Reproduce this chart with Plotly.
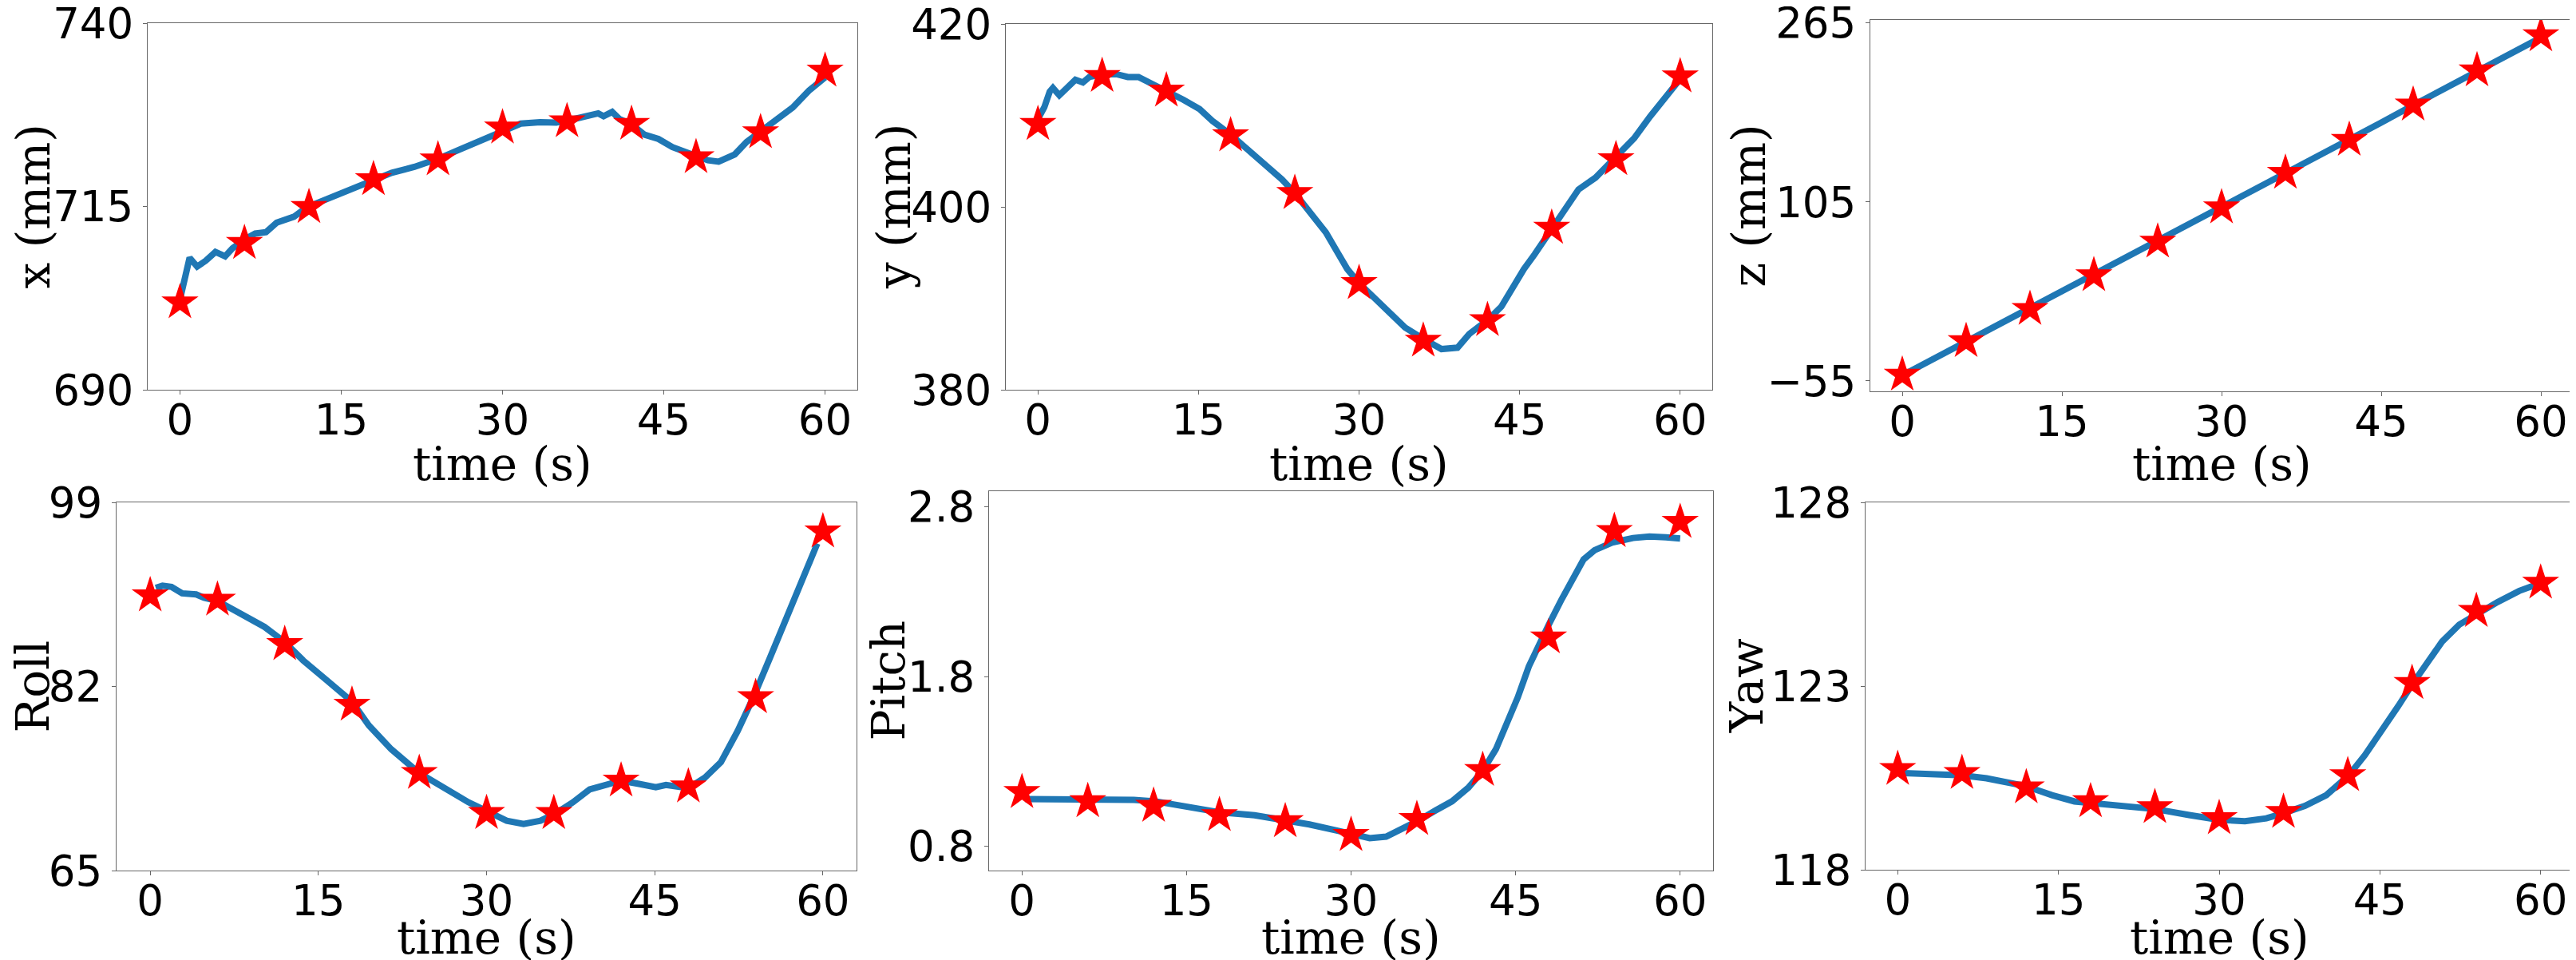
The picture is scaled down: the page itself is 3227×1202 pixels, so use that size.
import plotly.graph_objects as go

W, H = 3227, 1202

star_t = [0, 6, 12, 18, 24, 30, 36, 42, 48, 54, 60]

# x (mm)
x_line_t = [0, 0.9, 1.6, 2.4, 3.3, 4.2, 4.9, 6, 7, 8, 9, 10.6, 11.8, 13.6, 15.7, 17.8, 19.7, 21.8, 24, 25.9,
            27.4, 28.9, 29.9, 31.7, 33.5, 35, 36.6, 38.1, 38.9, 39.4, 40.2, 40.9, 42, 43.2, 44.5, 45.8, 46.8,
            48, 49.1, 50.1, 51.6, 52.7, 53.8, 55.5, 57, 58.5, 59.5, 60]
x_line = [702.3, 708.0, 706.8, 707.6, 708.8, 708.2, 709.3, 710.5, 711.3, 711.5, 712.8, 713.6, 714.9, 716.0,
          717.1, 718.6, 719.6, 720.4, 721.5, 722.7, 723.6, 724.6, 725.2, 726.3, 726.5, 726.45, 726.9, 727.5,
          727.7, 727.3, 727.9, 726.9, 726.2, 724.8, 724.2, 723.1, 722.5, 721.9, 721.3, 721.1, 722.1, 723.8,
          725.0, 726.7, 728.5, 730.8, 732.0, 732.6]
x_star = [701.9, 710.0, 714.9, 718.7, 721.4, 725.75, 726.6, 726.25, 721.7, 725.1, 733.5]

# y (mm)
y_line_t = [0, 0.6, 1.1, 1.4, 2, 2.7, 3.5, 4.2, 4.8, 6, 7.35, 8.4, 9.4, 10.4, 12, 13.6, 15.1, 16.3, 18, 19.7,
            21.2, 22.8, 24, 25.3, 26.9, 27.9, 28.9, 30, 31.5, 33.1, 34.3, 36.1, 37.7, 39.2, 40.3, 41.3, 42,
            43.3, 44.3, 45.4, 46.4, 48, 49.3, 50.5, 52.1, 53.9, 55.7, 57.2, 58.8, 59.8]
y_line = [409.6, 410.9, 412.6, 413.0, 412.2, 413.1, 413.9, 413.6, 414.2, 414.5, 414.5, 414.2, 414.2, 413.6,
          412.7, 411.7, 410.7, 409.4, 407.9, 406.2, 404.7, 403.0, 401.5, 399.5, 397.2, 395.2, 393.2, 391.65,
          390.0, 388.3, 386.8, 385.5, 384.45, 384.6, 386.1, 387.0, 387.6, 389.1, 391.1, 393.2, 394.8, 397.5,
          399.85, 401.9, 403.2, 405.4, 407.5, 409.9, 412.2, 413.7]
y_star = [409.05, 414.3, 412.7, 407.8, 401.5, 391.65, 385.35, 387.6, 397.7, 405.2, 414.25]

# z (mm)
z_line_t = [0, 3, 6, 9, 12, 15, 18, 21, 24, 27, 30, 33, 36, 39, 42, 45, 48, 51, 54, 57, 60]
z_line = [-50, -35, -20, -5, 9.5, 24.5, 39.5, 54.5, 69.5, 85, 100, 115, 130.5, 145.5, 160.5, 176, 191.5,
          207, 222, 237, 252]
z_star = [-49.5, -19.5, 9.3, 39.4, 69.4, 100.1, 131, 160.5, 192, 222.6, 254]

# Roll
roll_line_t = [0.5, 1.1, 1.9, 2.85, 4.1, 4.8, 6, 7.3, 8.7, 10.2, 12, 13.65, 15.6, 18, 19.5, 21.5, 24, 26.4,
               28.4, 30, 31.8, 33.3, 34.8, 36.2, 37.7, 39.2, 40.7, 42, 43.6, 45.1, 46, 48, 49.5, 50.9, 52.4,
               53.8, 55.3, 56.8, 58.3, 59.5]
roll_line = [91.1, 91.3, 91.2, 90.6, 90.5, 90.2, 89.9, 89.2, 88.4, 87.5, 86.1, 84.4, 82.7, 80.6, 78.4, 76.2,
             74.0, 72.5, 71.3, 70.5, 69.6, 69.3, 69.6, 70.3, 71.3, 72.5, 73.0, 73.3, 73.0, 72.7, 72.9, 72.6,
             73.6, 75.0, 77.9, 81.0, 84.7, 88.4, 92.1, 95.2]
roll_star = [90.4, 90.0, 85.9, 80.3, 74.0, 70.3, 70.3, 73.3, 72.75, 81.0, 96.3]

# Pitch
pitch_line_t = [0.3, 3.7, 6.2, 10.2, 12.2, 15.2, 18, 21.2, 24, 26.2, 28.7, 30.2, 31.7, 33.2, 34.7, 36, 37.7,
                39.2, 40.7, 42, 43.2, 44.2, 45.2, 46.2, 47.2, 48, 49.2, 50.2, 51.2, 52.2, 53.8, 55.7, 57.2,
                58.7, 60]
pitch_line = [1.078, 1.078, 1.078, 1.073, 1.064, 1.031, 1.0, 0.982, 0.955, 0.928, 0.892, 0.865, 0.847, 0.856,
              0.901, 0.946, 1.010, 1.064, 1.145, 1.244, 1.371, 1.515, 1.678, 1.859, 2.003, 2.103, 2.256,
              2.383, 2.491, 2.545, 2.590, 2.617, 2.626, 2.621, 2.614]
pitch_star = [1.118, 1.064, 1.037, 0.982, 0.946, 0.865, 0.959, 1.248, 2.030, 2.657, 2.711]

# Yaw
yaw_line_t = [0.6, 3.2, 6, 8.3, 10.3, 11.9, 14.4, 16.5, 17.9, 20.6, 24.1, 27.2, 30, 32.4, 34.4, 35.9, 38, 40,
              42.1, 43.6, 45.2, 46.7, 48, 49.3, 50.8, 52.4, 54, 56, 58, 59.5]
yaw_line = [120.63, 120.61, 120.57, 120.49, 120.38, 120.28, 120.03, 119.86, 119.82, 119.74, 119.65, 119.49,
            119.36, 119.32, 119.40, 119.53, 119.74, 120.03, 120.57, 121.12, 121.78, 122.45, 123.04, 123.62,
            124.21, 124.67, 124.96, 125.29, 125.59, 125.75]
yaw_star = [120.74, 120.63, 120.24, 119.86, 119.70, 119.40, 119.57, 120.57, 123.08, 125.04, 125.81]

y_titles = ["x (mm)", "y (mm)", "z (mm)", "Roll", "Pitch", "Yaw"]
y_ticks = [[690, 715, 740], [380, 400, 420], [-55, 105, 265], [65, 82, 99], [0.8, 1.8, 2.8], [118, 123, 128]]
y_ranges = [[690, 740], [380, 420], [-64.3, 267.8], [65, 99], [0.656, 2.893], [118, 128]]
x_ticks = [0, 15, 30, 45, 60]

panels = [
    (x_line_t, x_line, x_star),
    (y_line_t, y_line, y_star),
    (z_line_t, z_line, z_star),
    (roll_line_t, roll_line, roll_star),
    (pitch_line_t, pitch_line, pitch_star),
    (yaw_line_t, yaw_line, yaw_star),
]

# plot-area boxes in pixels: left, right, top, bottom
boxes = [(177, 1066, 21, 480), (1252, 2137, 22, 480), (2335, 3215, 17, 482),
         (138, 1065, 621, 1082), (1231, 2138, 607, 1082), (2329, 3215, 621, 1081)]
ytitle_x = [33, 1112, 2182, 32, 1104, 2180]
xtitle_y = [573, 573, 573, 1166, 1166, 1166]

tick_font = dict(family="DejaVu Sans", size=53, color="black")
title_font = dict(family="DejaVu Serif", size=58, color="black")

fig = go.Figure()
annotations = []
for i, (lt, lv, sv) in enumerate(panels):
    n = "" if i == 0 else str(i + 1)
    fig.add_trace(go.Scatter(x=lt, y=lv, mode="lines", line=dict(color="#1f77b4", width=8),
                             xaxis="x" + n, yaxis="y" + n, showlegend=False))
    fig.add_trace(go.Scatter(x=star_t, y=sv, mode="markers",
                             marker=dict(symbol="star", size=35, color="red", line=dict(width=0)),
                             xaxis="x" + n, yaxis="y" + n, showlegend=False))
    l, r, t, b = boxes[i]
    axis_style = dict(showline=True, mirror=True, linecolor="#666", linewidth=1.2, ticks="outside",
                      ticklen=5, tickwidth=1.2, tickcolor="#666", showgrid=False, zeroline=False,
                      automargin=False, ticklabeloverflow="allow", tickfont=tick_font)
    fig.layout["xaxis" + n] = dict(domain=[l / W, r / W], anchor="y" + n, range=[-3, 63],
                                   tickvals=x_ticks, ticklabelstandoff=-14, **axis_style)
    fig.layout["yaxis" + n] = dict(domain=[1 - b / H, 1 - t / H], anchor="x" + n, range=y_ranges[i],
                                   tickvals=y_ticks[i], ticklabelstandoff=1, **axis_style)
    annotations.append(dict(text="time (s)", x=(l + r) / 2 / W, y=1 - xtitle_y[i] / H, xref="paper",
                            yref="paper", showarrow=False, font=title_font, xanchor="center",
                            yanchor="middle"))
    annotations.append(dict(text=y_titles[i], x=ytitle_x[i] / W, y=1 - (t + b) / 2 / H, xref="paper",
                            yref="paper", showarrow=False, font=title_font, textangle=-90,
                            xanchor="center", yanchor="middle"))

fig.update_layout(template="none", width=W, height=H, margin=dict(l=0, r=0, t=0, b=0),
                  paper_bgcolor="white", plot_bgcolor="white", annotations=annotations)

fig.write_html("out.html")
